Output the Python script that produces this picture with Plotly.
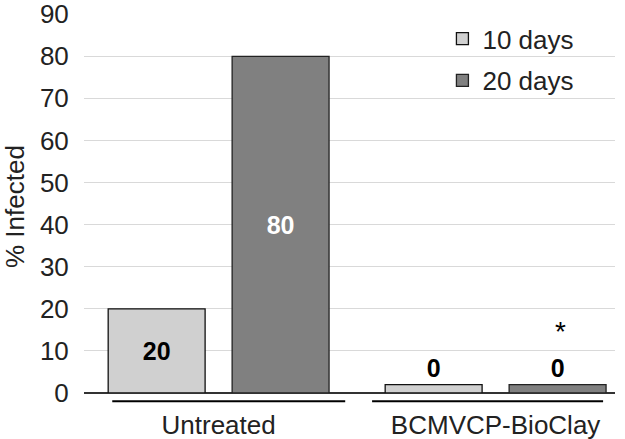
import plotly.graph_objects as go

categories = ["Untreated", "BCMVCP-BioClay"]
series_names = ["10 days", "20 days"]
values_10 = [20, 0]
values_20 = [80, 0]
# drawn bar heights (zero values are shown as a thin sliver in the reference)
drawn_10 = [20, 2]
drawn_20 = [80, 2]
colors = ["#d0d0d0", "#808080"]
y_ticks = [0, 10, 20, 30, 40, 50, 60, 70, 80, 90]
y_title = "% Infected"

FONT = "Liberation Sans, Arial, sans-serif"
FS = 26
BFS = 25

fig = go.Figure()
fig.add_trace(go.Bar(
    x=categories, y=drawn_10, name=series_names[0], legendgroup="a",
    marker=dict(color=colors[0], line=dict(color="#111111", width=1.3)),
    text=[str(v) for v in values_10], textposition=["inside", "outside"],
    insidetextanchor="middle", cliponaxis=False,
    textfont=dict(family=FONT, size=BFS, color="black", weight="bold"),
    insidetextfont=dict(family=FONT, size=BFS, color="black", weight="bold"),
    outsidetextfont=dict(family=FONT, size=BFS, color="black", weight="bold"),
))
fig.add_trace(go.Bar(
    x=categories, y=drawn_20, name=series_names[1], legendgroup="b",
    marker=dict(color=colors[1], line=dict(color="#222222", width=1.3)),
    text=[str(v) for v in values_20], textposition=["inside", "outside"],
    insidetextanchor="middle", cliponaxis=False,
    textfont=dict(family=FONT, size=BFS, color="white", weight="bold"),
    insidetextfont=dict(family=FONT, size=BFS, color="white", weight="bold"),
    outsidetextfont=dict(family=FONT, size=BFS, color="black", weight="bold"),
))

# significance asterisk over the BioClay 20-day bar
fig.add_annotation(x=categories[1], y=14.6, xref="x", yref="y", text="*",
                   showarrow=False, xshift=65,
                   font=dict(family=FONT, size=28, color="black"))

# y-axis title
fig.add_annotation(x=-0.13, y=0.4934, xref="paper", yref="paper", text=y_title,
                   textangle=-90, showarrow=False, xanchor="center", yanchor="middle",
                   font=dict(family=FONT, size=26, color="#222222"))

# category underline brackets
spans = [(-0.384, 0.457), (0.554, 1.388)]
for x0, x1 in spans:
    fig.add_shape(type="line", xref="x", yref="paper", x0=x0, x1=x1,
                  y0=-0.022, y1=-0.022, line=dict(color="black", width=2))

fig.update_layout(
    width=625, height=439,
    margin=dict(l=84, r=10, t=14, b=46),
    paper_bgcolor="white", plot_bgcolor="white",
    barmode="group", bargap=0.105, bargroupgap=0.218,
    font=dict(family=FONT, size=FS, color="#222222"),
    showlegend=True,
    legend=dict(x=0.675, y=0.997, xanchor="left", yanchor="top",
                bgcolor="rgba(0,0,0,0)", font=dict(size=FS, color="#222222"),
                traceorder="grouped", tracegroupgap=5, itemwidth=30),
)
fig.update_xaxes(
    type="category", range=[-0.486, 1.431], showgrid=False, automargin=False,
    showline=False, ticks="", ticklabelstandoff=14,
    tickfont=dict(size=FS, color="#222222"),
)
fig.update_yaxes(
    range=[0, 90.05], tickvals=y_ticks,
    showgrid=True, gridcolor="#d9d9d9",
    gridwidth=1, zeroline=True, zerolinecolor="#333333", zerolinewidth=1.5,
    showline=False, ticks="outside", ticklen=9, tickcolor="rgba(0,0,0,0)",
    automargin=False, ticklabeloverflow="allow",
    tickfont=dict(size=FS, color="#222222"),
)

fig.write_html("out.html", config={"displayModeBar": False},
               post_script="document.body.style.margin='0';document.body.style.overflow='hidden';")
